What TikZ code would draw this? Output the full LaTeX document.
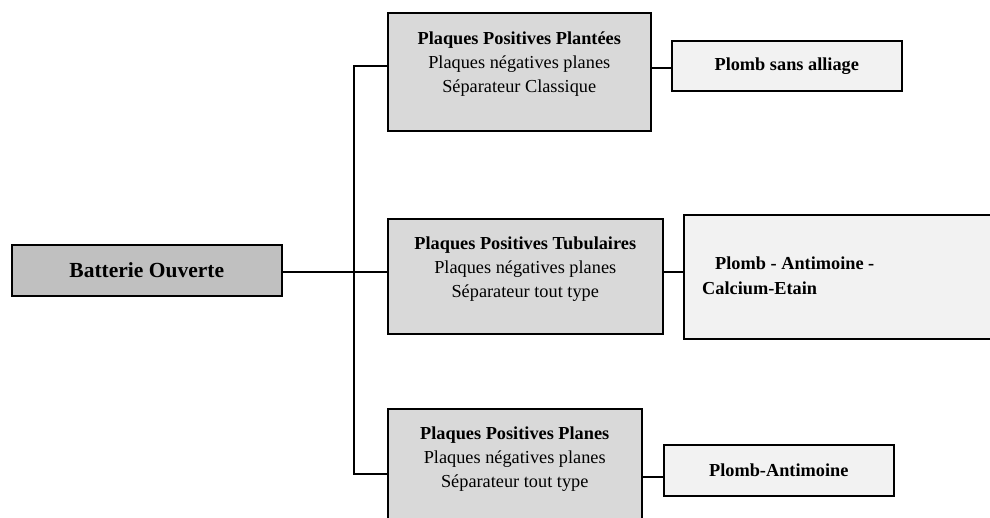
\documentclass[tikz,border=0pt]{standalone}
\usepackage{fontspec}
\setmainfont{Liberation Serif}
\definecolor{cdark}{HTML}{C0C0C0}
\definecolor{cmid}{HTML}{D9D9D9}
\definecolor{clight}{HTML}{F2F2F2}
\begin{document}
\begin{tikzpicture}[x=1pt,y=-1pt,
  box/.style={draw=black, line width=1.5pt, rectangle, inner sep=0pt, anchor=north west},
  txt/.style={inner sep=0pt, align=center, font=\fontsize{18.3}{23.8}\selectfont},
  conn/.style={line width=1.5pt}]
\useasboundingbox (0,0) rectangle (990,517);
\clip (0,0) rectangle (990,517);
% boxes
\node[box, fill=cdark, minimum width=270pt, minimum height=51pt] (bat) at (11,244) {};
\node[box, fill=cmid, minimum width=263pt, minimum height=118pt] (b1) at (387,12) {};
\node[box, fill=cmid, minimum width=275pt, minimum height=115pt] (b2) at (387,218) {};
\node[box, fill=cmid, minimum width=254pt, minimum height=130pt] (b3) at (387,408) {};
\node[box, fill=clight, minimum width=230pt, minimum height=50pt] (r1) at (671,40) {};
\node[box, fill=clight, minimum width=330pt, minimum height=124pt] (r2) at (683,214) {};
\node[box, fill=clight, minimum width=230pt, minimum height=51pt] (r3) at (663,444) {};
% texts
\node[txt, font=\fontsize{21.5}{25}\selectfont\bfseries] (tbat) at (bat.center) {Batterie Ouverte};
\node[txt, anchor=north] (t1) at ([yshift=-20pt]b1.north) {\textbf{Plaques Positives Plantées}\\Plaques négatives planes\\Séparateur Classique};
\node[txt, anchor=north] (t2) at ([yshift=-19pt]b2.north) {\textbf{Plaques Positives Tubulaires}\\Plaques négatives planes\\Séparateur tout type};
\node[txt, anchor=north] (t3) at ([yshift=-19pt]b3.north) {\textbf{Plaques Positives Planes}\\Plaques négatives planes\\Séparateur tout type};
\node[txt, font=\fontsize{18.3}{23.8}\selectfont\bfseries] (tr1) at (r1.center) {Plomb sans alliage};
\node[txt, align=left, anchor=north west, font=\fontsize{18.3}{25}\selectfont\bfseries] (tr2) at (702,257) {\hspace*{13pt}Plomb - Antimoine -\\Calcium-Etain};
\node[txt, font=\fontsize{18.3}{23.8}\selectfont\bfseries] (tr3) at (r3.center) {Plomb-Antimoine};
% connectors
\coordinate (vtop) at (354,66);
\coordinate (vmid) at (354,272);
\coordinate (vbot) at (354,474);
\draw[conn] (bat.east |- vmid) -- (b2.west |- vmid);
\draw[conn] (b1.west |- vtop) -- (vtop) -- (vbot) -- (b3.west |- vbot);
\draw[conn] (b1.east |- 0,68) -- (r1.west |- 0,68);
\draw[conn] (b2.east |- vmid) -- (r2.west |- vmid);
\draw[conn] (b3.east |- 0,477) -- (r3.west |- 0,477);
\end{tikzpicture}
\end{document}
